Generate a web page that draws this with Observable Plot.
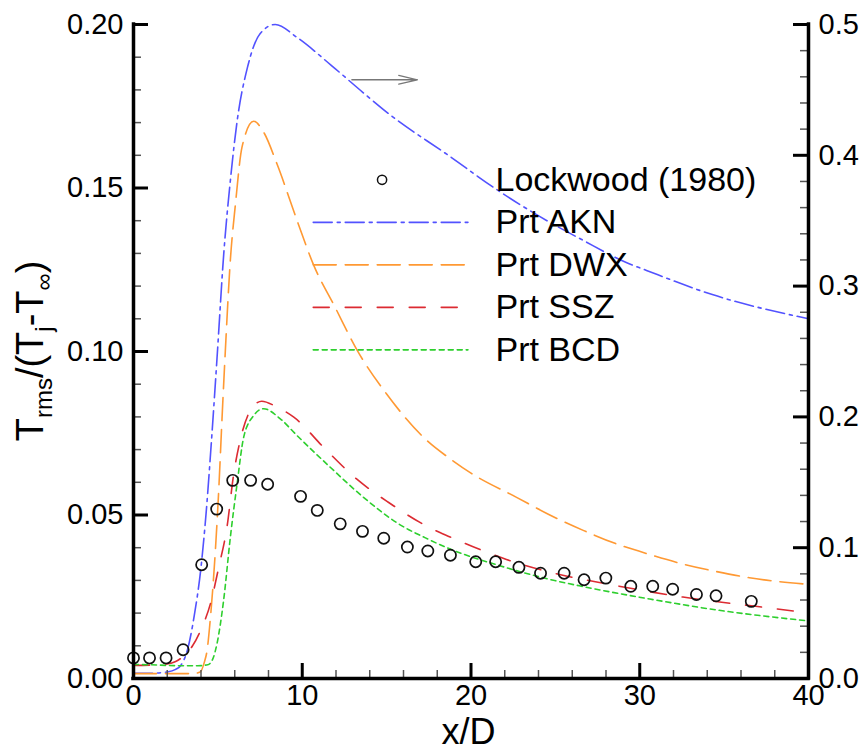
<!DOCTYPE html>
<html>
<head>
<meta charset="utf-8">
<script src="https://cdn.jsdelivr.net/npm/d3@7"></script>
<script src="https://cdn.jsdelivr.net/npm/@observablehq/plot@0.6"></script>
<style>
  html, body { margin: 0; padding: 0; background: white; }
</style>
</head>
<body>
<div id="chart"></div>
<script>
// ---------- data ----------
const xTicks = [0, 10, 20, 30, 40];
const xMinorTicks = [2, 4, 6, 8, 12, 14, 16, 18, 22, 24, 26, 28, 32, 34, 36, 38];
const leftTicks = [0, 0.05, 0.10, 0.15, 0.20];
const leftMinorTicks = [0.01, 0.02, 0.03, 0.04, 0.06, 0.07, 0.08, 0.09, 0.11, 0.12, 0.13, 0.14, 0.16, 0.17, 0.18, 0.19];
const rightTicks = [0, 0.1, 0.2, 0.3, 0.4, 0.5];
const rightMinorTicks = [0.02, 0.04, 0.06, 0.08, 0.12, 0.14, 0.16, 0.18, 0.22, 0.24, 0.26, 0.28, 0.32, 0.34, 0.36, 0.38, 0.42, 0.44, 0.46, 0.48];

const seriesNames = ["Lockwood (1980)", "Prt AKN", "Prt DWX", "Prt SSZ", "Prt BCD"];

const lockX = [0, 0.95, 1.93, 2.94, 4.04, 4.93, 5.88, 6.94, 7.95, 9.9, 10.89, 12.25, 13.57, 14.83, 16.23, 17.44, 18.78, 20.28, 21.46, 22.84, 24.12, 25.52, 26.7, 27.99, 29.47, 30.77, 31.95, 33.36, 34.52, 36.61];
const lockY = [0.0063, 0.0063, 0.0063, 0.0088, 0.0348, 0.0518, 0.0606, 0.0606, 0.0594, 0.0557, 0.0514, 0.0473, 0.0450, 0.0429, 0.0402, 0.0390, 0.0377, 0.0357, 0.0357, 0.0340, 0.0322, 0.0322, 0.0302, 0.0307, 0.0282, 0.0282, 0.0273, 0.0257, 0.0253, 0.0236];

// AKN is read against the right axis (0 - 0.5)
const aknX = [0, 1, 2, 2.5, 2.8, 3.2, 3.6, 4.0, 4.3, 4.6, 4.95, 5.35, 5.75, 6.15, 6.75, 7.5, 8.4, 9.7, 11.7, 13.6, 15.2, 18.6, 21.5, 24.5, 26.5, 29.2, 30.4, 34.3, 40];
const aknRight = [0.004, 0.004, 0.005, 0.007, 0.010, 0.022, 0.048, 0.085, 0.126, 0.178, 0.245, 0.325, 0.382, 0.427, 0.467, 0.493, 0.500, 0.490, 0.469, 0.448, 0.431, 0.4005, 0.374, 0.350, 0.336, 0.318, 0.312, 0.2935, 0.275];

const dwxX = [0, 2, 3.5, 3.95, 4.2, 4.36, 4.56, 4.85, 5.05, 5.25, 5.44, 5.74, 6.04, 6.43, 7.12, 7.71, 8.5, 9.69, 10.67, 11.95, 13.24, 15, 17.38, 18.76, 20, 22.7, 24.67, 26.65, 28.6, 30.6, 32.56, 34.54, 36.5, 40];
const dwxY = [0.0015, 0.0015, 0.0015, 0.002, 0.005, 0.0086, 0.0187, 0.039, 0.0575, 0.080, 0.100, 0.128, 0.145, 0.1625, 0.1704, 0.1671, 0.1574, 0.1401, 0.1265, 0.1135, 0.1005, 0.0870, 0.0728, 0.0672, 0.0628, 0.0554, 0.0500, 0.0453, 0.0412, 0.0379, 0.0350, 0.0327, 0.0308, 0.0288];

const sszX = [0, 1, 1.8, 2.5, 3.0, 3.5, 4.0, 4.56, 5.05, 5.54, 5.94, 6.33, 6.93, 7.6, 8.5, 9.5, 11.36, 13.2, 15.1, 17.75, 18.76, 20.7, 22.1, 24.7, 28.6, 32.56, 36.5, 40];
const sszY = [0.0040, 0.0041, 0.0043, 0.0052, 0.0070, 0.0100, 0.0150, 0.0229, 0.034, 0.0463, 0.0626, 0.073, 0.082, 0.0848, 0.0830, 0.0799, 0.0702, 0.0611, 0.0539, 0.0456, 0.0433, 0.0391, 0.0364, 0.0325, 0.0284, 0.0249, 0.0223, 0.0201];

const bcdX = [0, 1, 2, 3, 3.8, 4.4, 4.7, 4.95, 5.34, 5.74, 6.14, 6.53, 7.12, 7.71, 8.7, 9.69, 11.66, 13.63, 15.8, 17.3, 18.8, 21.7, 24.67, 26.65, 30.6, 34.5, 40];
const bcdY = [0.0043, 0.0042, 0.0040, 0.0039, 0.0039, 0.0042, 0.0060, 0.0107, 0.0239, 0.0432, 0.0596, 0.0738, 0.0804, 0.0825, 0.0794, 0.0743, 0.0646, 0.0554, 0.0470, 0.0430, 0.0395, 0.0345, 0.0303, 0.0281, 0.0243, 0.0210, 0.0176];

// annotation arrow (points to the right axis)
const arrowFrom = [12.94, 0.1831];
const arrowTo = [16.82, 0.1831];

// ---------- build ----------
const leftMax = 0.2, rightMax = 0.5;
const r2l = leftMax / rightMax;

const zip = (xs, ys) => xs.map((x, i) => ({x, y: ys[i]}));
const lock = zip(lockX, lockY);
const akn = zip(aknX, aknRight.map(v => v * r2l));
const dwx = zip(dwxX, dwxY);
const ssz = zip(sszX, sszY);
const bcd = zip(bcdX, bcdY);

const styles = {
  "Prt AKN": {stroke: "#5252ff", dash: "19,5,3,5"},
  "Prt DWX": {stroke: "#ff9933", dash: "23,9"},
  "Prt SSZ": {stroke: "#dc2b32", dash: "16,16"},
  "Prt BCD": {stroke: "#2ecf2e", dash: "5,4"}
};

const W = 864, H = 754;
const mL = 133, mR = 56, mT = 24, mB = 76;
const frameW = W - mL - mR, frameH = H - mT - mB;
const majorLen = 15, minorLen = 8;
const font = "'Liberation Sans', Arial, Helvetica, sans-serif";

// legend layout (data coordinates)
const legTop = 0.1525, legStep = 0.013;
const legLineX1 = 10.65, legLineX2 = 19.82, legTextX = 21.45, legDotX = 14.73;

const curveMark = (data, name) => Plot.line(data, {
  x: "x", y: "y", curve: "monotone-x",
  stroke: styles[name].stroke, strokeWidth: 1.6,
  strokeDasharray: styles[name].dash
});

const legendLine = (name, i) => Plot.line(
  [{x: legLineX1, y: legTop - i * legStep}, {x: legLineX2, y: legTop - i * legStep}],
  {x: "x", y: "y", stroke: styles[name].stroke, strokeWidth: 1.6, strokeDasharray: styles[name].dash}
);

const chart = Plot.plot({
  width: W, height: H,
  marginLeft: mL, marginRight: mR, marginTop: mT, marginBottom: mB,
  x: {domain: [0, 40], axis: null},
  y: {domain: [0, leftMax], axis: null},
  style: {fontFamily: font, background: "white", color: "black", overflow: "visible"},
  marks: [
    // curves
    curveMark(akn, "Prt AKN"),
    curveMark(dwx, "Prt DWX"),
    curveMark(ssz, "Prt SSZ"),
    curveMark(bcd, "Prt BCD"),
    // experiment
    Plot.dot(lock, {x: "x", y: "y", r: 5.6, stroke: "#111", strokeWidth: 1.7, fill: "none"}),
    // arrow
    Plot.arrow([{x1: arrowFrom[0], y1: arrowFrom[1], x2: arrowTo[0], y2: arrowTo[1]}],
      {x1: "x1", y1: "y1", x2: "x2", y2: "y2", stroke: "#777", strokeWidth: 1.3, headLength: 22, headAngle: 26}),
    // legend
    Plot.dot([seriesNames[0]], {x: () => legDotX, y: () => legTop, r: 4.6, stroke: "#111", strokeWidth: 1.5, fill: "none"}),
    ...seriesNames.slice(1).map((n, i) => legendLine(n, i + 1)),
    Plot.text(seriesNames, {x: () => legTextX, y: (d, i) => legTop - i * legStep, text: d => d,
      textAnchor: "start", fontSize: 34, fill: "black"}),
    // minor ticks
    Plot.tickX(xMinorTicks, {x: d => d, insetTop: frameH - minorLen, stroke: "#555", strokeWidth: 1.5}),
    Plot.tickY(leftMinorTicks, {y: d => d, insetRight: frameW - minorLen, stroke: "#555", strokeWidth: 1.5}),
    Plot.tickY(rightMinorTicks, {y: d => d * r2l, insetLeft: frameW - minorLen, stroke: "#555", strokeWidth: 1.5}),
    // major ticks
    Plot.tickX(xTicks, {x: d => d, insetTop: frameH - majorLen, stroke: "black", strokeWidth: 3}),
    Plot.tickY(leftTicks, {y: d => d, insetRight: frameW - majorLen, stroke: "black", strokeWidth: 3}),
    Plot.tickY(rightTicks, {y: d => d * r2l, insetLeft: frameW - majorLen, stroke: "black", strokeWidth: 3}),
    // axis lines
    Plot.ruleX([0, 40], {stroke: "black", strokeWidth: 3.5, strokeLinecap: "square"}),
    Plot.ruleY([0], {stroke: "black", strokeWidth: 3.5, strokeLinecap: "square"}),
    // tick labels via axes
    Plot.axisX(xTicks, {tickSize: 0, tickPadding: 6, fontSize: 29, label: null, tickFormat: d => String(d)}),
    Plot.axisY(leftTicks, {anchor: "left", tickSize: 0, tickPadding: 10, fontSize: 29, label: null, tickFormat: d => d.toFixed(2)}),
    Plot.axisY(rightTicks.map(d => d * r2l), {anchor: "right", tickSize: 0, tickPadding: 10, fontSize: 29, label: null,
      tickFormat: d => (d / r2l).toFixed(1)})
  ]
});

// axis titles (with subscripts)
const svg = d3.select(chart);
svg.append("text")
  .attr("x", mL + frameW / 2 - 2).attr("y", 744)
  .attr("text-anchor", "middle")
  .style("font-family", font).style("font-size", "36px").attr("fill", "black")
  .text("x/D");

const yl = svg.append("text")
  .attr("transform", `translate(43,${mT + frameH / 2}) rotate(-90)`)
  .attr("text-anchor", "middle")
  .style("font-family", font).style("font-size", "38px").attr("fill", "black");
const sub = 9;
yl.append("tspan").text("T");
yl.append("tspan").attr("dy", sub).style("font-size", "24px").text("rms");
yl.append("tspan").attr("dy", -sub).text("/(T");
yl.append("tspan").attr("dy", sub).style("font-size", "24px").text("j");
yl.append("tspan").attr("dy", -sub).text("-T");
yl.append("tspan").attr("dy", sub).style("font-size", "24px").text("∞");
yl.append("tspan").attr("dy", -sub).text(")");

document.getElementById("chart").appendChild(chart);
</script>
</body>
</html>
